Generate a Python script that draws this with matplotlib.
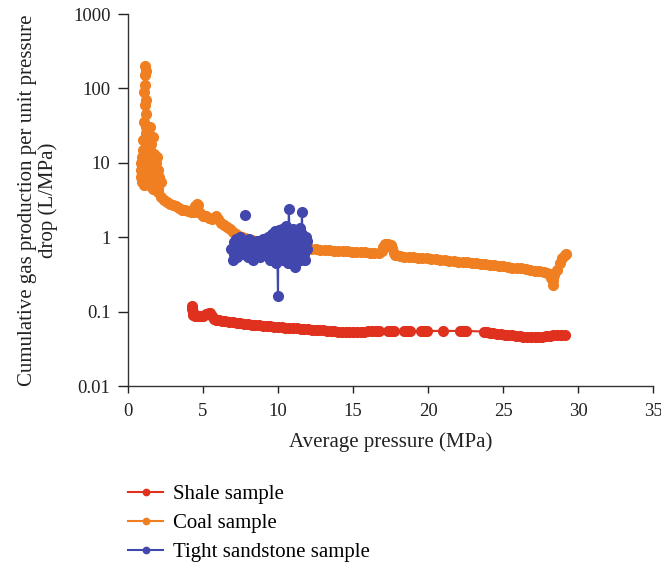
import matplotlib.pyplot as plt

plt.rcParams['font.family'] = ['Liberation Serif', 'DejaVu Serif']

# ============================================================
# DATA
# ============================================================

shale_x = [4.25, 4.3, 4.32, 4.35, 4.45, 4.6, 4.8, 5.0, 5.2, 5.4, 5.5, 5.6, 5.75, 5.9,
           6.1, 6.3, 6.5, 6.75, 7.0, 7.25, 7.5, 7.75, 8.0, 8.25, 8.5, 8.75, 9.0, 9.25,
           9.5, 9.75, 10.0, 10.25, 10.5, 10.75, 11.0, 11.25, 11.5, 11.75, 12.0, 12.25,
           12.5, 12.75, 13.0, 13.25, 13.5, 13.75, 14.0, 14.25, 14.5, 14.75, 15.0, 15.25,
           15.5, 15.75, 16.0, 16.25, 16.5, 16.75, 17.3, 17.5, 17.7, 18.4, 18.6, 18.8,
           19.5, 19.7, 19.9, 21.0, 22.1, 22.3, 22.5, 23.7, 23.9, 24.1, 24.35, 24.6,
           24.85, 25.1, 25.35, 25.6, 25.85, 26.1, 26.35, 26.6, 26.85, 27.1, 27.35, 27.6,
           27.85, 28.1, 28.35, 28.6, 28.85, 29.1]
shale_y = [0.12, 0.11, 0.1, 0.09, 0.088, 0.087, 0.086, 0.088, 0.092, 0.097, 0.095,
           0.087, 0.08, 0.077, 0.076, 0.075, 0.074, 0.073, 0.072, 0.071, 0.07, 0.069,
           0.068, 0.067, 0.066, 0.066, 0.065, 0.064, 0.064, 0.063, 0.063, 0.062, 0.061,
           0.061, 0.06, 0.06, 0.059, 0.058, 0.058, 0.057, 0.057, 0.056, 0.056, 0.055,
           0.055, 0.055, 0.054, 0.054, 0.054, 0.054, 0.054, 0.054, 0.054, 0.054, 0.055,
           0.055, 0.055, 0.055, 0.055, 0.055, 0.055, 0.055, 0.055, 0.055, 0.055, 0.055,
           0.055, 0.055, 0.055, 0.055, 0.055, 0.054, 0.053, 0.052, 0.051, 0.05, 0.05,
           0.049, 0.048, 0.048, 0.047, 0.047, 0.046, 0.046, 0.046, 0.046, 0.046, 0.046,
           0.047, 0.047, 0.048, 0.048, 0.049, 0.049]

coal_x = [0.85, 0.9, 0.88, 0.95, 0.92, 1.0, 0.98, 1.05, 1.02, 1.1, 1.08, 1.12, 1.1,
          1.15, 1.13, 1.18, 1.15, 1.2, 1.17, 1.22, 1.2, 1.25, 1.22, 1.28, 1.25, 1.3,
          1.28, 1.35, 1.32, 1.4, 1.38, 1.45, 1.5, 1.42, 1.55, 1.6, 1.5, 1.65, 1.7, 1.6,
          1.75, 1.85, 1.7, 1.9, 2.0, 1.8, 1.45, 1.55, 1.65, 1.75, 1.85, 1.95, 2.0, 2.1,
          2.2, 1.9, 0.95, 1.0, 1.1, 1.2, 1.4, 1.6, 1.8, 2.0, 2.2,
          2.4, 2.6, 2.8, 3.0, 3.2, 3.4, 3.6, 3.8, 4.0, 4.2, 4.4, 4.5, 4.6, 4.7, 4.8, 5.0,
          5.2, 5.4, 5.6, 5.8, 5.9, 6.0, 6.2, 6.4, 6.6, 6.8, 7.0, 7.2, 7.4, 7.6, 7.8,
          8.0, 8.3, 8.6, 8.9, 9.2, 9.5, 9.8, 10.1, 10.4, 10.7, 11.0, 11.3, 11.6, 11.9,
          12.2, 12.5, 12.8, 13.1, 13.4, 13.7, 14.0, 14.3, 14.6, 14.9, 15.2, 15.5, 15.8,
          16.1, 16.4, 16.7, 16.9, 17.0, 17.1, 17.3, 17.5, 17.6, 17.7, 17.8, 18.1, 18.4,
          18.7, 19.0, 19.3, 19.6, 19.9, 20.2, 20.5, 20.8, 21.1, 21.4, 21.7, 22.0, 22.3,
          22.6, 22.9, 23.2, 23.5, 23.8, 24.1, 24.4, 24.7, 25.0, 25.3, 25.6, 25.9, 26.2,
          26.5, 26.8, 27.1, 27.4, 27.7, 27.9, 28.1, 28.2, 28.3, 28.35, 28.4, 28.6, 28.8,
          28.95, 29.1, 29.2]
coal_y = [6.5, 8, 10, 7, 12, 9, 15, 6, 20, 11, 35, 60, 90, 150, 200, 170, 110, 70, 45,
          30, 22, 16, 25, 12, 9, 14, 7, 10, 6, 8, 12, 6, 9, 5, 7, 4.8, 15, 6, 10, 8,
          5, 6.5, 4.5, 5.5, 4.5, 5.2, 30, 18, 22, 13, 10, 12, 8, 6.5, 5.5, 5,
          5.5, 7, 5, 8, 6, 5.5, 4.5, 4.0, 3.5, 3.2, 3.0,
          2.8, 2.7, 2.6, 2.45, 2.35, 2.3, 2.25, 2.2, 2.15, 2.6, 2.8, 2.7, 2.1, 1.95,
          1.9, 1.8, 1.75, 1.8, 1.9, 1.75, 1.55, 1.45, 1.38, 1.28, 1.18, 1.1, 1.05, 1.0,
          0.97, 0.95, 0.92, 0.9, 0.87, 0.85, 0.83, 0.81, 0.79, 0.78, 0.76, 0.75, 0.73,
          0.72, 0.71, 0.7, 0.69, 0.68, 0.67, 0.665, 0.66, 0.655, 0.65, 0.645, 0.64,
          0.635, 0.63, 0.625, 0.62, 0.615, 0.61, 0.65, 0.75, 0.8, 0.8, 0.78, 0.72, 0.62,
          0.57, 0.56, 0.55, 0.545, 0.54, 0.53, 0.525, 0.52, 0.51, 0.505, 0.5, 0.49,
          0.485, 0.48, 0.47, 0.465, 0.46, 0.45, 0.445, 0.44, 0.43, 0.425, 0.42, 0.41,
          0.405, 0.4, 0.39, 0.385, 0.38, 0.37, 0.365, 0.355, 0.35, 0.34, 0.33, 0.32,
          0.28, 0.23, 0.27, 0.31, 0.36, 0.45, 0.52, 0.57, 0.6]

sand_x = [6.9, 7.0, 7.05, 7.1, 7.2, 7.25, 7.3, 7.4, 7.45, 7.5, 7.6, 7.65, 7.7, 7.8,
          7.9, 8.0, 8.05, 8.1, 8.2, 8.3, 8.35, 8.4, 8.5, 8.6, 8.65, 8.7, 8.8, 8.9, 9.0,
          9.05, 9.1, 9.2, 9.3, 9.35, 9.4, 9.5, 9.55, 9.6, 9.7, 9.75, 9.8, 9.85, 9.9,
          9.95, 10.0, 10.02, 10.1, 10.15, 10.2, 10.25, 10.3, 10.35, 10.4, 10.45, 10.5,
          10.55, 10.6, 10.65, 10.7, 10.72, 10.8, 10.85, 10.9, 10.95, 11.0, 11.05, 11.1,
          11.15, 11.2, 11.25, 11.3, 11.35, 11.4, 11.45, 11.5, 11.55, 11.6, 11.62, 11.7,
          11.75, 11.8, 11.85, 11.9, 11.95]
sand_y = [0.7, 0.5, 0.85, 0.6, 0.95, 0.7, 0.55, 0.8, 1.0, 0.65, 0.75, 0.9, 0.6, 0.85,
          0.7, 0.55, 0.8, 0.95, 0.65, 0.75, 0.5, 0.85, 0.7, 0.9, 0.6, 0.75, 0.55, 0.8,
          0.95, 0.65, 0.7, 0.85, 0.6, 1.0, 0.7, 0.5, 0.9, 1.1, 0.6, 0.8, 1.2, 0.45, 0.9,
          0.7, 0.16, 0.85, 1.25, 0.55, 1.0, 0.7, 1.3, 0.5, 0.9, 1.1, 0.6, 1.4, 0.8,
          0.45, 1.0, 2.4, 0.7, 1.2, 0.5, 0.9, 1.3, 0.6, 1.1, 0.4, 0.8, 1.2, 0.55, 1.0,
          0.7, 1.35, 0.5, 0.9, 2.2, 1.1, 0.6, 0.85, 0.5, 1.0, 0.7, 0.9]
sand_outlier_x = [7.8]
sand_outlier_y = [2.0]

RED = '#E0301E'
ORANGE = '#F07F22'
BLUE = '#4247AE'
TEXT = '#222222'

# ============================================================
# PLOT
# ============================================================

fig = plt.figure(figsize=(6.61, 5.67), dpi=100)
ax = fig.add_axes([0.1936, 0.3192, 0.7944, 0.6561])

ax.plot(shale_x, shale_y, '-o', color=RED, lw=1.5, ms=7, label='Shale sample')
ax.plot(coal_x, coal_y, '-o', color=ORANGE, lw=1.5, ms=7, label='Coal sample')
ax.plot(sand_x, sand_y, '-o', color=BLUE, lw=1.5, ms=7, label='Tight sandstone sample')
ax.plot(sand_outlier_x, sand_outlier_y, 'o', color=BLUE, ms=7)

ax.set_yscale('log')
ax.set_xlim(0, 35)
ax.set_ylim(0.01, 1000)
ax.set_xticks(range(0, 36, 5))
ax.set_yticks([0.01, 0.1, 1, 10, 100, 1000])
ax.set_yticklabels(['0.01', '0.1', '1', '10', '100', '1000'])
ax.yaxis.set_minor_locator(plt.NullLocator())

for side in ['top', 'right']:
    ax.spines[side].set_visible(False)
for side in ['left', 'bottom']:
    ax.spines[side].set_color('#333333')
    ax.spines[side].set_linewidth(1.0)
ax.tick_params(axis='both', direction='out', width=1.0, labelsize=13.5, colors=TEXT)
ax.tick_params(axis='x', length=5, pad=7)
ax.tick_params(axis='y', length=7.5, pad=5)

ax.set_xlabel('Average pressure (MPa)', fontsize=15, color=TEXT, labelpad=9)
ax.set_ylabel('Cumulative gas production per unit pressure\ndrop (L/MPa)',
              fontsize=15, color=TEXT, labelpad=11, linespacing=1.1)

handles, labels = ax.get_legend_handles_labels()
leg = fig.legend(handles, labels, loc='upper left', bbox_to_anchor=(0.178, 1 - 474 / 567),
                 frameon=False, fontsize=15, handlelength=1.7, handletextpad=0.45,
                 labelspacing=0.45, markerscale=0.65, borderpad=0)

fig.savefig('out.png', dpi=100)
